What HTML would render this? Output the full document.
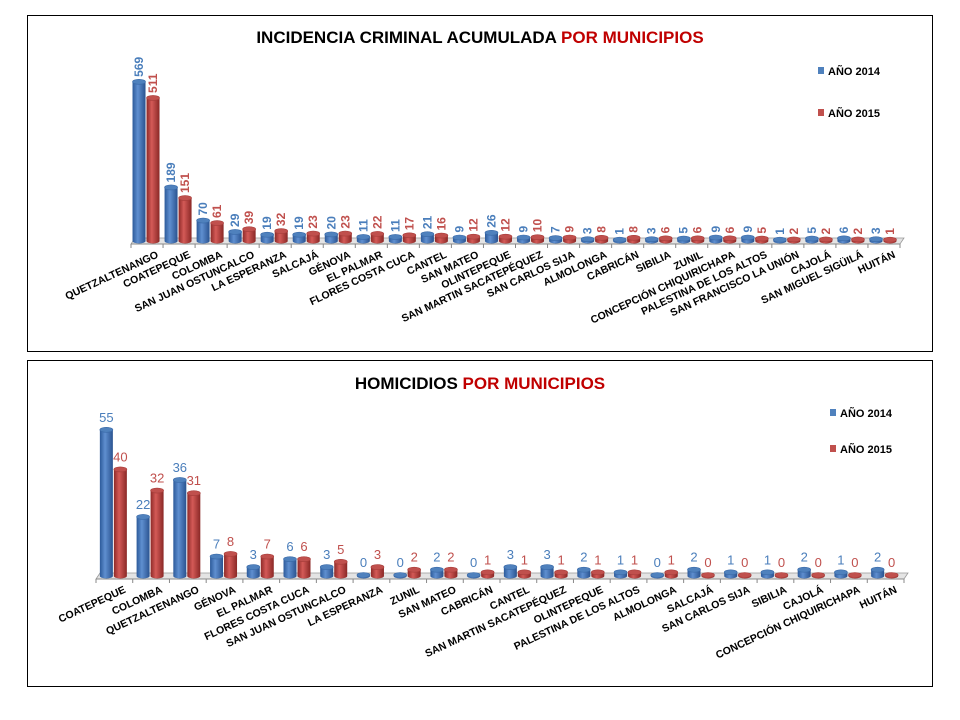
<!DOCTYPE html>
<html><head><meta charset="utf-8"><style>
body{margin:0;background:#fff;width:960px;height:720px;overflow:hidden;font-family:"Liberation Sans",sans-serif}
svg{position:absolute;left:0;top:0}
</style></head><body>
<svg id="s" width="960" height="720">
<defs>
<linearGradient id="gb" x1="0" x2="1"><stop offset="0" stop-color="#2c5a9a"/><stop offset="0.4" stop-color="#5f8fd0"/><stop offset="1" stop-color="#2a5390"/></linearGradient>
<linearGradient id="gr" x1="0" x2="1"><stop offset="0" stop-color="#8e2a28"/><stop offset="0.4" stop-color="#d45a57"/><stop offset="1" stop-color="#8a2826"/></linearGradient>
</defs>
<rect x="27.5" y="15.5" width="905" height="336" fill="none" stroke="#000"/>
<rect x="27.5" y="360.5" width="905" height="326" fill="none" stroke="#000"/>
<text x="480" y="43" text-anchor="middle" font-size="17" font-weight="bold">INCIDENCIA CRIMINAL ACUMULADA <tspan fill="#c00000">POR MUNICIPIOS</tspan></text>
<text x="480" y="389" text-anchor="middle" font-size="17" font-weight="bold">HOMICIDIOS <tspan fill="#c00000">POR MUNICIPIOS</tspan></text>
<g>
<rect x="818" y="67" width="6" height="7" fill="#4f81bd"/><text x="828" y="75" font-size="11" font-weight="bold">AÑO 2014</text>
<rect x="818" y="109" width="6" height="7" fill="#c0504d"/><text x="828" y="117" font-size="11" font-weight="bold">AÑO 2015</text>
</g>
<g>
<rect x="830" y="409" width="6" height="7" fill="#4f81bd"/><text x="840" y="417" font-size="11" font-weight="bold">AÑO 2014</text>
<rect x="830" y="445" width="6" height="7" fill="#c0504d"/><text x="840" y="453" font-size="11" font-weight="bold">AÑO 2015</text>
</g>
</svg>
<script>
const topCats=["QUETZALTENANGO","COATEPEQUE","COLOMBA","SAN JUAN OSTUNCALCO","LA ESPERANZA","SALCAJÁ","GÉNOVA","EL PALMAR","FLORES COSTA CUCA","CANTEL","SAN MATEO","OLINTEPEQUE","SAN MARTIN SACATEPÉQUEZ","SAN CARLOS SIJA","ALMOLONGA","CABRICÁN","SIBILIA","ZUNIL","CONCEPCIÓN CHIQUIRICHAPA","PALESTINA DE LOS ALTOS","SAN FRANCISCO LA UNIÓN","CAJOLÁ","SAN MIGUEL SIGÜILÁ","HUITÁN"];
const top2014=[569,189,70,29,19,19,20,11,11,21,9,26,9,7,3,1,3,5,9,9,1,5,6,3];
const top2015=[511,151,61,39,32,23,23,22,17,16,12,12,10,9,8,8,6,6,6,5,2,2,2,1];
const botCats=["COATEPEQUE","COLOMBA","QUETZALTENANGO","GÉNOVA","EL PALMAR","FLORES COSTA CUCA","SAN JUAN OSTUNCALCO","LA ESPERANZA","ZUNIL","SAN MATEO","CABRICÁN","CANTEL","SAN MARTIN SACATEPÉQUEZ","OLINTEPEQUE","PALESTINA DE LOS ALTOS","ALMOLONGA","SALCAJÁ","SAN CARLOS SIJA","SIBILIA","CAJOLÁ","CONCEPCIÓN CHIQUIRICHAPA","HUITÁN"];
const bot2014=[55,22,36,7,3,6,3,0,0,2,0,3,3,2,1,0,2,1,1,2,1,2];
const bot2015=[40,32,31,8,7,6,5,3,2,2,1,1,1,1,1,1,0,0,0,0,0,0];
const NS="http://www.w3.org/2000/svg";
const svg=document.getElementById('s');
function mk(t,a,p){const e=document.createElementNS(NS,t);for(const k in a)e.setAttribute(k,a[k]);(p||svg).appendChild(e);return e;}
function chart(o){
  const g=mk('g',{});
  
  
  const n=o.cats.length,gw=(o.x1-o.x0)/n;
  const xs=i=>o.x0+gw*i+gw/2;
  const ys=v=>o.base-v*o.k;
  const fl=mk('polygon',{points:`${o.x0},${o.base+4} ${o.x0+4},${o.base-2} ${o.x1+4},${o.base-2} ${o.x1},${o.base+4}`,fill:'#e4e4e4',stroke:'#999','stroke-width':0.8},g);
  
  
  mk('line',{x1:o.x0,y1:o.base+4,x2:o.x1,y2:o.base+4,stroke:'#888'},g);
  for(let i=0;i<=n;i++){mk('line',{x1:o.x0+gw*i,y1:o.base+4,x2:o.x0+gw*i,y2:o.base+8,stroke:'#888'},g);}
  const bw=13;
  [[o.a,'url(#gb)','#4f81bd','#4a7ebb',-7,'2014'],[o.b,'url(#gr)','#c0504d','#c0504d',7,'2015']].forEach(([vals,fill,top,lc,off,yr])=>{
    vals.forEach((v,i)=>{
      const cx=xs(i)+off-1,yt=ys(v),yb=o.base+1;
      const b=mk('g',{},g);
      
      
      mk('path',{d:`M${cx-bw/2},${yt} L${cx-bw/2},${yb} A${bw/2},2.5 0 0 0 ${cx+bw/2},${yb} L${cx+bw/2},${yt} Z`,fill:fill},b);
      mk('ellipse',{cx:cx,cy:yt,rx:bw/2,ry:2.5,fill:top,stroke:fill=='url(#gb)'?'#3a6aa8':'#a83e3b','stroke-width':0.6},b);
      let t;
      if(o.vert){t=mk('text',{x:0,y:0,transform:`translate(${cx+4},${yt-5}) rotate(-90)`,'font-size':12,'font-weight':'bold',fill:lc},g);}
      else{t=mk('text',{x:cx,y:yt-8,'text-anchor':'middle','font-size':13,fill:lc},g);}
      t.textContent=v;
      
      
    });
  });
  o.cats.forEach((c,i)=>{
    const t=mk('text',{transform:`translate(${xs(i)+12},${o.base+17}) rotate(-25)`,'text-anchor':'end','font-size':10.5,'font-weight':'bold'},g);
    t.textContent=c;
    
    
  });
}
chart({name:'top-chart',cats:topCats,a:top2014,b:top2015,x0:131,x1:900,base:240,k:0.278,vert:true});
chart({name:'bottom-chart',cats:botCats,a:bot2014,b:bot2015,x0:96,x1:904,base:575,k:2.64,vert:false});
</script>
</body></html>
